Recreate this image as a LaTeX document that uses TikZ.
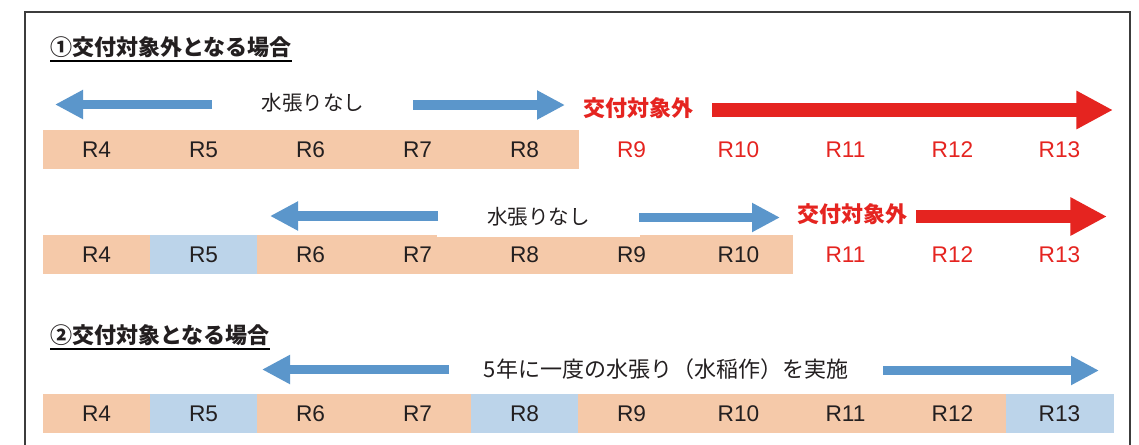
\documentclass[tikz,border=0pt]{standalone}
\usepackage{fontspec}
\setmainfont{Noto Sans CJK JP}
\newfontfamily\rfont{Liberation Sans}
\usetikzlibrary{arrows.meta}
\definecolor{peach}{RGB}{245,201,169}
\definecolor{lblue}{RGB}{188,212,234}
\definecolor{ablue}{RGB}{91,150,203}
\definecolor{ared}{RGB}{229,36,32}
\definecolor{framec}{RGB}{60,60,60}
\definecolor{txt}{RGB}{35,31,32}
\tikzset{
  cell/.style={minimum width=80.25pt, minimum height=29pt, inner sep=0pt, outer sep=0pt,
    anchor=north west, font=\rfont\fontsize{17}{17}\selectfont, text=txt},
  pcell/.style={cell, fill=peach, draw=peach, line width=0.3pt},
  bcell/.style={cell, fill=lblue, draw=lblue, line width=0.3pt},
  rcell/.style={cell, text=ared},
  barrow/.style={draw=ablue, line width=7.3pt, -{Triangle[length=21pt,width=20.5pt]}},
  rarrow/.style={draw=ared, line width=10pt, -{Triangle[length=27.5pt,width=27pt]}},
  title/.style={anchor=west, inner sep=0pt, text=txt, font=\fontsize{16.5}{16.5}\selectfont\bfseries},
  note/.style={inner sep=0pt, text=txt, font=\fontsize{15.4}{15.4}\selectfont},
  rednote/.style={inner sep=0pt, text=ared, font=\fontsize{16.5}{16.5}\selectfont\bfseries},
  ul/.style={draw=black, line width=1.3pt},
}
\begin{document}
\begin{tikzpicture}[x=0.75pt,y=-0.75pt]
\useasboundingbox (0,0) rectangle (1139,444);
\clip (0,0) rectangle (1139,444);
\fill[white] (0,0) rectangle (1139,444);
% frame
\draw[framec, line width=1.2pt] (25,12) rectangle (1130,470);

% titles
\node[title] (t1) at (50,47) {①交付対象外となる場合};
\draw[ul] (t1.west |- 0,61) -- (t1.east |- 0,61);
\node[title] (t2) at (50,335) {②交付対象となる場合};
\draw[ul] (t2.west |- 0,349) -- (t2.east |- 0,349);

% ---------- row 1 ----------
\node[pcell] (a4) at (43,130) {R4};
\node[pcell] (a5) at (150,130) {R5};
\node[pcell] (a6) at (257,130) {R6};
\node[pcell] (a7) at (364,130) {R7};
\node[pcell] (a8) at (471,130) {R8};
\node[rcell] (a9) at (578,130) {R9};
\node[rcell] (a10) at (685,130) {R10};
\node[rcell] (a11) at (792,130) {R11};
\node[rcell] (a12) at (899,130) {R12};
\node[rcell] (a13) at (1006,130) {R13};

\node[note] (n1) at (313,103) {水張りなし};
\node[rednote] (x1) at (638,108) {交付対象外};
\coordinate (p1a) at (212,104.5);
\coordinate (p1b) at (55,104.5);
\coordinate (p1c) at (413,105);
\coordinate (p1d) at (565,105);
\coordinate (p1e) at (712,110);
\coordinate (p1f) at (1113,110);
\draw[barrow] (p1a) -- (p1b);
\draw[barrow] (p1c) -- (p1d);
\draw[rarrow] (p1e) -- (p1f);

% ---------- row 2 ----------
\node[pcell] (b4) at (43,235) {R4};
\node[bcell] (b5) at (150,235) {R5};
\node[pcell] (b6) at (257,235) {R6};
\node[pcell] (b7) at (364,235) {R7};
\node[pcell] (b8) at (471,235) {R8};
\node[pcell] (b9) at (578,235) {R9};
\node[pcell] (b10) at (685,235) {R10};
\node[rcell] (b11) at (792,235) {R11};
\node[rcell] (b12) at (899,235) {R12};
\node[rcell] (b13) at (1006,235) {R13};

\node[note, fill=white, minimum width=152.25pt, minimum height=31pt] (n2) at (538.5,216.5) {水張りなし};
\node[rednote] (x2) at (852,214) {交付対象外};
\coordinate (p2a) at (438,216);
\coordinate (p2b) at (270,216);
\coordinate (p2c) at (639,217.5);
\coordinate (p2d) at (780,217.5);
\coordinate (p2e) at (916,216.5);
\coordinate (p2f) at (1107,216.5);
\draw[barrow] (p2a) -- (p2b);
\draw[barrow] (p2c) -- (p2d);
\draw[rarrow, line width=9.3pt] (p2e) -- (p2f);

% ---------- row 3 ----------
\node[pcell] (c4) at (43,394) {R4};
\node[bcell] (c5) at (150,394) {R5};
\node[pcell] (c6) at (257,394) {R6};
\node[pcell] (c7) at (364,394) {R7};
\node[bcell] (c8) at (471,394) {R8};
\node[pcell] (c9) at (578,394) {R9};
\node[pcell] (c10) at (685,394) {R10};
\node[pcell] (c11) at (792,394) {R11};
\node[pcell] (c12) at (899,394) {R12};
\node[bcell] (c13) at (1006,394) {R13};

\node[note, font=\fontsize{16.5}{16.5}\selectfont] (n3) at (666,369) {5年に一度の水張り（水稲作）を実施};
\coordinate (p3a) at (449,369.5);
\coordinate (p3b) at (262,369.5);
\coordinate (p3c) at (883,370.5);
\coordinate (p3d) at (1099,370.5);
\draw[barrow] (p3a) -- (p3b);
\draw[barrow] (p3c) -- (p3d);
\end{tikzpicture}
\end{document}
